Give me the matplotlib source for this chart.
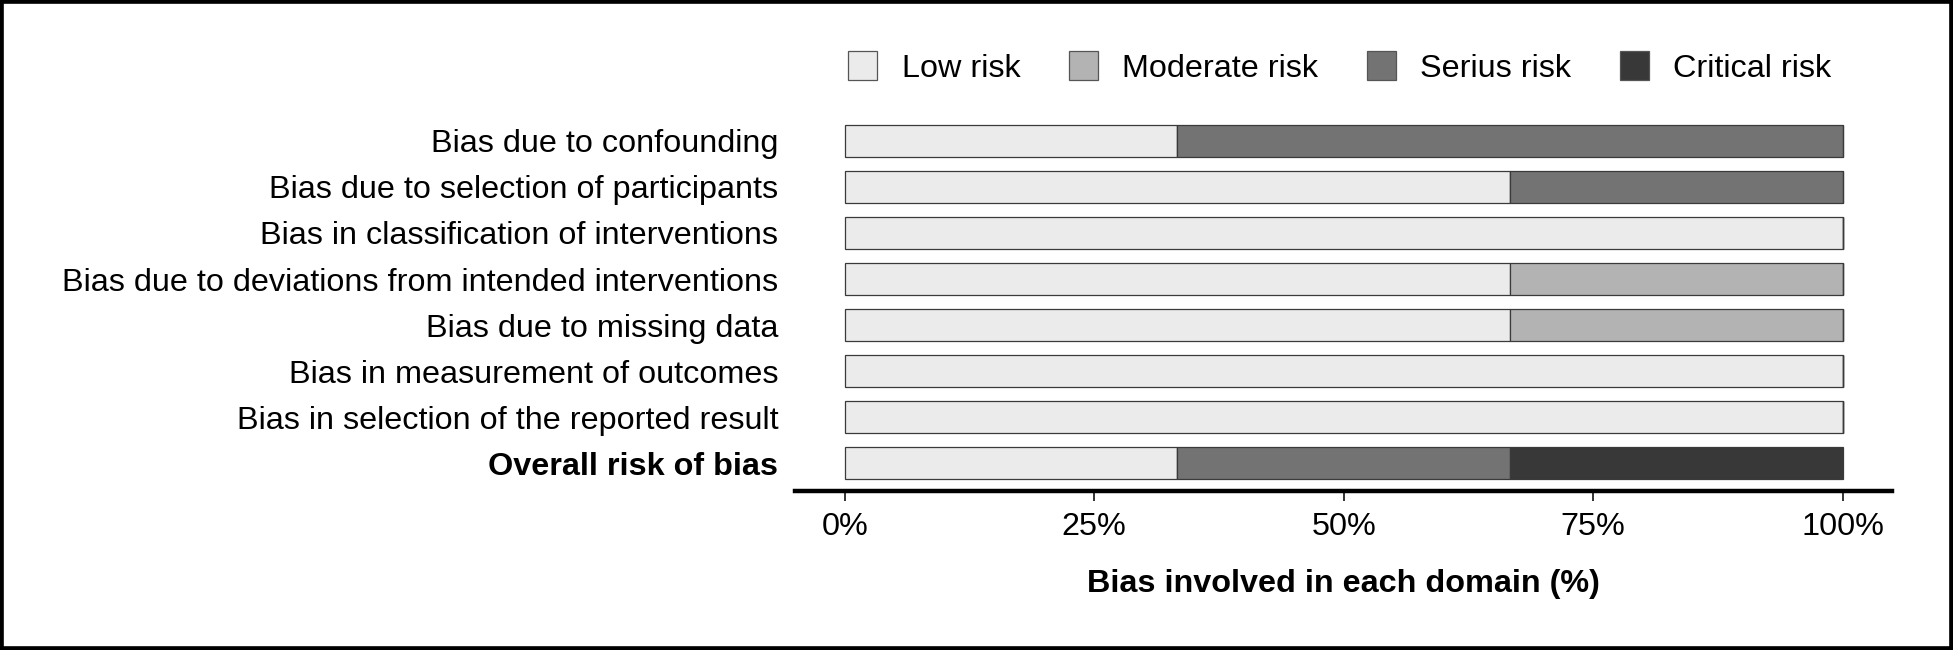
import numpy as np
from matplotlib import pyplot as plt
from matplotlib.patches import Rectangle, Patch

plt.rcParams['font.family'] = ['Liberation Sans', 'DejaVu Sans']

# domains, top to bottom
domains = [
    'Bias due to confounding',
    'Bias due to selection of participants',
    'Bias in classification of interventions',
    'Bias due to deviations from intended interventions',
    'Bias due to missing data',
    'Bias in measurement of outcomes',
    'Bias in selection of the reported result',
    'Overall risk of bias',
]
risk_levels = ['Low risk', 'Moderate risk', 'Serius risk', 'Critical risk']
risk_colors = ['#ebebeb', '#b3b3b3', '#737373', '#383838']

# number of studies per judgement, three studies in total
n_studies = 3
low_counts = [1, 2, 3, 2, 2, 3, 3, 1]
moderate_counts = [0, 0, 0, 1, 1, 0, 0, 0]
serious_counts = [2, 1, 0, 0, 0, 0, 0, 1]
critical_counts = [0, 0, 0, 0, 0, 0, 0, 1]

x_ticks = [0, 25, 50, 75, 100]
x_tick_labels = ['0%', '25%', '50%', '75%', '100%']


def plot_rob_summary(save_fig=True):
    fig = plt.figure(figsize=(19.53, 6.5), dpi=100)
    ax = fig.add_axes([0.407, 0.2446, 0.562, 0.5814])

    counts = np.array([low_counts, moderate_counts, serious_counts, critical_counts], dtype=float)
    pct = counts / n_studies * 100.0
    y_pos = np.arange(len(domains))

    left = np.zeros(len(domains))
    for i, level in enumerate(risk_levels):
        ax.barh(
            y_pos,
            pct[i],
            left=left,
            height=0.7,
            color=risk_colors[i],
            edgecolor='#3a3a3a',
            linewidth=0.9,
        )
        left += pct[i]

    ax.set_xlim(-5, 105)
    ax.set_ylim(len(domains) - 0.4, -0.6)
    ax.set_yticks(y_pos)
    ax.set_yticklabels(domains, fontsize=23.3)
    ax.get_yticklabels()[-1].set_fontweight('bold')
    ax.set_xticks(x_ticks)
    ax.set_xticklabels(x_tick_labels, fontsize=23.3)
    ax.tick_params(axis='y', length=0, pad=12)
    ax.tick_params(axis='x', length=7, width=1.4, color='#333333', pad=8)

    for side in ['top', 'right', 'left']:
        ax.spines[side].set_visible(False)
    ax.spines['bottom'].set_linewidth(3.2)
    ax.spines['bottom'].set_color('black')

    ax.set_xlabel('Bias involved in each domain (%)', fontsize=23.3, fontweight='bold')
    ax.xaxis.set_label_coords(0.5, -0.245)
    ax.xaxis.label.set_verticalalignment('center')

    handles = [
        Patch(facecolor=c, edgecolor='#555555', linewidth=0.9, label=l)
        for c, l in zip(risk_colors, risk_levels)
    ]
    fig.legend(
        handles=handles,
        loc='center',
        bbox_to_anchor=(0.686, 0.896),
        ncol=4,
        frameon=False,
        fontsize=23.3,
        handlelength=0.9,
        handleheight=0.97,
        handletextpad=0.75,
        columnspacing=1.5,
    )

    fig.patches.append(Rectangle(
        (0, 0), 1, 1,
        transform=fig.transFigure,
        fill=False,
        edgecolor='black',
        linewidth=5.5,
    ))

    if save_fig:
        plt.savefig('out.png', dpi=100)

    return fig, ax


if __name__ == '__main__':
    fig, ax = plot_rob_summary(save_fig=True)
